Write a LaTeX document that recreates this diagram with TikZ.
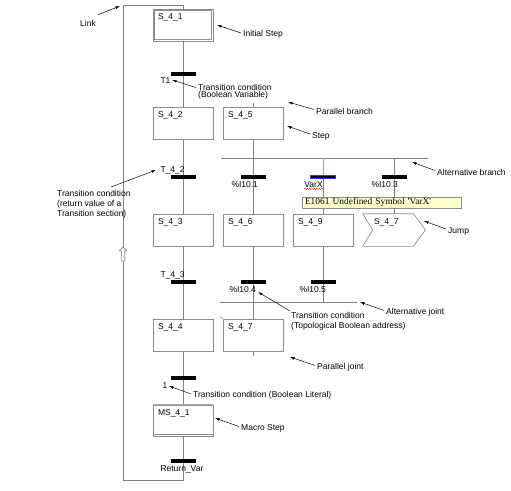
\documentclass[tikz,border=0pt]{standalone}
\usepackage{fontspec}
\setmainfont{Liberation Sans}
\newfontfamily\tipfont{Liberation Serif}
\usetikzlibrary{arrows.meta,shapes.arrows,decorations.pathmorphing}
\definecolor{wiregray}{RGB}{128,128,128}
\definecolor{boxgray}{RGB}{140,140,140}
\definecolor{tipyellow}{RGB}{255,255,204}
\begin{document}
\begin{tikzpicture}[x=1pt,y=-1pt,
	font=\fontsize{8.5}{10}\selectfont,
	wire/.style={draw=wiregray,line width=0.7pt},
	bus/.style={draw=wiregray,line width=0.6pt,double=white,double distance=2.2pt},
	stepbox/.style={rectangle,draw=boxgray,line width=0.7pt,minimum width=60pt,minimum height=32pt,
		inner xsep=5pt,inner ysep=3pt,text width=50pt,align=left,text height=7pt,text depth=19pt},
	trans/.style={fill=black,inner sep=0pt,minimum width=25pt,minimum height=3.5pt},
	cond/.style={inner sep=0pt},
	note/.style={inner sep=0pt,anchor=west,align=left},
	pointer/.style={draw=black,line width=0.5pt,-{Latex[length=4.5pt,width=2.8pt]}}]
	\useasboundingbox (0,0) rectangle (511,490);
	% steps and transitions
	\node[stepbox] (s41) at (183,25) {S\_4\_1};
	\node[trans] (t1) at (183,74) {};
	\node[stepbox] (s42) at (183,123.5) {S\_4\_2};
	\node[stepbox] (s45) at (253,123.5) {S\_4\_5};
	\node[trans] (t42) at (183,177) {};
	\node[trans] (t101) at (253,177) {};
	\node[trans,draw=blue!80,line width=0.6pt] (tvx) at (323,177) {};
	\node[trans] (t103) at (394,177) {};
	\node[stepbox] (s43) at (183,230) {S\_4\_3};
	\node[stepbox] (s46) at (253,230) {S\_4\_6};
	\node[stepbox] (s49) at (323,230) {S\_4\_9};
	\node[stepbox,draw=none,minimum width=62pt,inner xsep=11pt,text width=40pt] (j47) at (394,230) {S\_4\_7};
	\node[trans] (t43) at (183,282) {};
	\node[trans] (t104) at (253,282) {};
	\node[trans] (t105) at (323,282) {};
	\node[stepbox] (s44) at (183,335) {S\_4\_4};
	\node[stepbox] (s47) at (253,335) {S\_4\_7};
	\node[trans] (t4) at (183,378) {};
	\node[stepbox,minimum height=31pt,text depth=18pt] (ms41) at (183,420.5) {MS\_4\_1};
	\node[trans] (trv) at (183,461) {};
	% branches and joints
	\coordinate (pb1) at (150,101.5);
	\coordinate (pb2) at (287,101.5);
	\coordinate (pbs) at (150,103);
	\coordinate (ab1) at (221,158);
	\coordinate (ab2) at (428,158);
	\coordinate (aj1) at (220,302);
	\coordinate (aj2) at (357,302);
	\coordinate (pj1) at (150,357.5);
	\coordinate (pj2) at (287,357.5);
	\coordinate (pjs) at (150,356);
	\draw[bus] (pb1) -- (pb2);
	\draw[bus] (pj1) -- (pj2);
	\draw[wire] (ab1) -- (ab2);
	\draw[wire] (aj1) -- (aj2);
	% connections
	\draw[wire] (s41) -- (t1);
	\draw[wire] (t1) -- (s42);
	\draw[wire] (s45.north) -- (s45.north |- pbs);
	\draw[wire] (s42) -- (t42);
	\draw[wire] (t42) -- (s43);
	\draw[wire] (s43) -- (t43);
	\draw[wire] (t43) -- (s44);
	\draw[wire] (s44) -- (t4);
	\draw[wire] (t4) -- (ms41);
	\draw[wire] (ms41) -- (trv);
	\draw[wire] (s45) -- (t101);
	\draw[wire] (t101) -- (s46);
	\draw[wire] (s46) -- (t104);
	\draw[wire] (t104) -- (s47);
	\draw[draw=blue!40,line width=0.7pt] (s49 |- ab1) -- (tvx);
	\draw[wire] (tvx) -- (s49);
	\draw[wire] (s49) -- (t105);
	\draw[wire] (t105) -- (s49 |- aj1);
	\draw[wire] (j47 |- ab1) -- (t103);
	\draw[wire] (t103) -- (j47);
	\draw[wire] (s47) -- (s47 |- pjs);
	% initial step, jump and macro step outlines
	\draw[draw=boxgray,line width=0.6pt] ([shift={(2pt,-2pt)}]s41.north west) rectangle ([shift={(-2pt,2pt)}]s41.south east);
	\draw[draw=boxgray,line width=0.7pt] (j47.north west) -- ([xshift=-12pt]j47.north east) -- (j47.east)
		-- ([xshift=-12pt]j47.south east) -- (j47.south west) -- ([xshift=10pt]j47.west) -- cycle;
	\draw[draw=boxgray!70,line width=1.6pt] (ms41.north west) -- (ms41.north east);
	\draw[draw=boxgray,line width=0.7pt] ([yshift=2.5pt]ms41.south west) -- ([yshift=2.5pt]ms41.south east);
	\draw[wire,line width=0.5pt] ([shift={(-3pt,2pt)}]s47.north west) -- ([xshift=0.5pt]s47.north west);
	% link
	\coordinate (lkTL) at (123,5);
	\coordinate (lkTR) at (183,5);
	\coordinate (lkBL) at (123,480);
	\coordinate (lkBR) at (183,480);
	\draw[wire] (trv) -- (lkBR) -- (lkBL) -- (lkTL) -- (lkTR) -- (s41);
	\node[single arrow,draw=wiregray,fill=white,rotate=90,minimum height=14pt,inner sep=1.4pt,
		single arrow head extend=2pt,line width=0.6pt] (uparr) at (123,255) {};
	% transition conditions
	\node[cond,anchor=north west] (lt1) at ([xshift=-10pt,yshift=-2pt]t1.south west) {T1};
	\node[cond,anchor=south west] (lt42) at ([xshift=-10pt,yshift=1pt]t42.north west) {T\_4\_2};
	\node[cond,anchor=north west] (l101) at ([xshift=-9pt,yshift=-2pt]t101.south west) {\%I10.1};
	\node[cond,anchor=north west] (lvx) at ([xshift=-6pt,yshift=-2pt]tvx.south west) {VarX};
	\node[cond,anchor=north west] (l103) at ([xshift=-10pt,yshift=-2pt]t103.south west) {\%I10.3};
	\node[cond,anchor=south west] (lt43) at ([xshift=-10pt,yshift=1pt]t43.north west) {T\_4\_3};
	\node[cond,anchor=north west] (l104) at ([xshift=-11pt,yshift=-2pt]t104.south west) {\%I10.4};
	\node[cond,anchor=north west] (l105) at ([xshift=-11pt,yshift=-2pt]t105.south west) {\%I10.5};
	\node[cond,anchor=north west] (lt4) at ([xshift=-8pt,yshift=-2pt]t4.south west) {1};
	\node[cond,anchor=north west] (lrv) at ([xshift=-10pt,yshift=-2pt]trv.south west) {Return\_Var};
	\draw[red,line width=0.4pt,decorate,decoration={snake,amplitude=0.6pt,segment length=2.4pt}]
		([yshift=-1.5pt]lvx.south west) -- ([yshift=-1.5pt]lvx.south east);
	% error tooltip
	\node[draw=boxgray,fill=tipyellow,line width=0.5pt,minimum width=159pt,minimum height=11pt,
		text width=153pt,inner xsep=3pt,inner ysep=0.5pt,align=left,font=\tipfont\fontsize{9.4}{10}\selectfont]
		(err) at (381.5,202.5) {E1061 Undefined Symbol \textquotesingle VarX\textquotesingle};
	% annotations
	\coordinate (aLink) at (120,6);
	\coordinate (aInit) at (217,25);
	\coordinate (aTCV) at (172,80);
	\coordinate (aPB) at (288,102);
	\coordinate (aStep) at (287,126);
	\coordinate (aAB) at (412,162);
	\coordinate (aTCR) at (156,170);
	\coordinate (aJump) at (424,221);
	\coordinate (aAJ) at (360,302);
	\coordinate (aTCT) at (258,292);
	\coordinate (aPJ) at (290,357);
	\coordinate (aBL) at (169,386);
	\coordinate (aMS) at (215,418);
	\node[note] (nLink) at (80,23) {Link};
	\node[note] (nInit) at (243,34) {Initial Step};
	\node[note,anchor=north west,font=\fontsize{8.5}{7}\selectfont] (nTCV) at (198,84) {Transition condition\\(Boolean Variable)};
	\node[note] (nPB) at (316,111) {Parallel branch};
	\node[note] (nStep) at (312,136) {Step};
	\node[note] (nAB) at (437,172) {Alternative branch};
	\node[note,anchor=north west] (nTCR) at (57,190) {Transition condition\\(return value of a\\Transition section)};
	\node[note] (nJump) at (448,231) {Jump};
	\node[note] (nAJ) at (386,312) {Alternative joint};
	\node[note,anchor=north west] (nTCT) at (291,312) {Transition condition\\(Topological Boolean address)};
	\node[note] (nPJ) at (317,367) {Parallel joint};
	\node[note] (nBL) at (193,395) {Transition condition (Boolean Literal)};
	\node[note] (nMS) at (241,428) {Macro Step};
	\draw[pointer] ([shift={(2pt,5pt)}]nLink.north east) -- (aLink);
	\draw[pointer] ([shift={(-2pt,1pt)}]nInit.west) -- (aInit);
	\draw[pointer] ([shift={(-2pt,-3.5pt)}]nTCV.north west) -- (aTCV);
	\draw[pointer] ([shift={(-2pt,1.5pt)}]nPB.west) -- (aPB);
	\draw[pointer] ([shift={(-2pt,2pt)}]nStep.west) -- (aStep);
	\draw[pointer] ([shift={(-2pt,1.5pt)}]nAB.west) -- (aAB);
	\draw[pointer] ([shift={(54pt,3pt)}]nTCR.north west) -- (aTCR);
	\draw[pointer] ([shift={(-2pt,2pt)}]nJump.west) -- (aJump);
	\draw[pointer] ([shift={(-2pt,1.5pt)}]nAJ.west) -- (aAJ);
	\draw[pointer] ([shift={(-1pt,1pt)}]nTCT.north west) -- (aTCT);
	\draw[pointer] ([shift={(-2pt,1.5pt)}]nPJ.west) -- (aPJ);
	\draw[pointer] ([shift={(-2pt,1pt)}]nBL.west) -- (aBL);
	\draw[pointer] ([shift={(-2pt,1.5pt)}]nMS.west) -- (aMS);
\end{tikzpicture}
\end{document}
